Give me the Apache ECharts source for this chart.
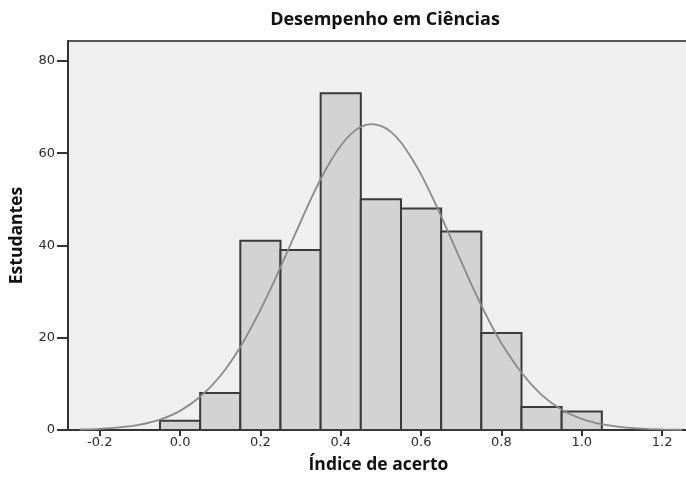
<!DOCTYPE html>
<html>
<head>
<meta charset="utf-8">
<script src="https://cdn.jsdelivr.net/npm/echarts@6/dist/echarts.min.js"></script>
<style>
html,body{margin:0;padding:0;background:#ffffff;}
#chart{width:686px;height:480px;}
</style>
</head>
<body>
<div id="chart"></div>
<script>
// Histogram bins (centers) and counts
const binCenters = [0.0, 0.1, 0.2, 0.3, 0.4, 0.5, 0.6, 0.7, 0.8, 0.9, 1.0];
const counts = [2, 8, 41, 39, 73, 50, 48, 43, 21, 5, 4];
const binWidth = 0.1;

// Fitted normal curve
const curveX = [-0.25, -0.2, -0.15, -0.1, -0.05, 0.0, 0.05, 0.1, 0.15, 0.2, 0.225, 0.25, 0.275, 0.3, 0.325, 0.35, 0.375, 0.4, 0.425, 0.45, 0.475, 0.5, 0.525, 0.55, 0.575, 0.6, 0.625, 0.65, 0.675, 0.7, 0.725, 0.75, 0.775, 0.8, 0.85, 0.9, 0.95, 1.0, 1.05, 1.1, 1.15, 1.2, 1.25];
const curveY = [0.11, 0.25, 0.55, 1.15, 2.25, 4.15, 7.2, 11.7, 18.0, 26.0, 30.5, 35.3, 40.2, 45.1, 49.9, 54.4, 58.3, 61.6, 64.1, 65.7, 66.3, 65.9, 64.6, 62.3, 59.1, 55.4, 51.0, 46.3, 41.4, 36.5, 31.6, 27.0, 22.7, 18.8, 12.4, 7.6, 4.4, 2.43, 1.25, 0.61, 0.28, 0.12, 0.05];

// Tick labels
const xTicks = [-0.2, 0.0, 0.2, 0.4, 0.6, 0.8, 1.0, 1.2];
const yTicks = [0, 20, 40, 60, 80];

const titleText = 'Desempenho em Ciências';
const xTitle = 'Índice de acerto';
const yTitle = 'Estudantes';

const chart = echarts.init(document.getElementById('chart'), null, {renderer: 'canvas'});

const barData = binCenters.map((c, i) => [c, counts[i]]);
const curveData = curveX.map((x, i) => [x, curveY[i]]);

const tickFont = {fontFamily: 'DejaVu Sans', fontSize: 13, color: '#2a2a2a'};
const nameFont = {fontFamily: 'Open Sans', fontWeight: 'bold', fontSize: 17.5, color: '#111'};

chart.setOption({
  animation: false,
  backgroundColor: '#ffffff',
  title: {
    text: titleText,
    left: 385,
    top: 11,
    textAlign: 'center',
    padding: 0,
    textStyle: {fontFamily: 'Open Sans', fontWeight: 'bold', fontSize: 18, color: '#111'}
  },
  grid: {
    left: 68, right: -3, top: 41, bottom: 50,
    outerBoundsMode: 'none',
    containLabel: false,
    show: true,
    backgroundColor: '#efefef',
    borderColor: '#555',
    borderWidth: 2
  },
  xAxis: {
    type: 'value',
    min: -0.279,
    max: 1.267,
    name: xTitle,
    nameLocation: 'middle',
    nameGap: 26,
    nameTextStyle: nameFont,
    axisLine: {show: true, onZero: false, lineStyle: {color: '#333', width: 2}},
    axisTick: {show: true, customValues: xTicks, length: 6, lineStyle: {color: '#333', width: 2}},
    axisLabel: {customValues: xTicks, margin: 6, formatter: v => v.toFixed(1), ...tickFont},
    splitLine: {show: false}
  },
  yAxis: {
    type: 'value',
    min: 0,
    max: 84.3,
    name: yTitle,
    nameLocation: 'middle',
    nameGap: 42,
    nameRotate: 90,
    nameTextStyle: nameFont,
    axisLine: {show: true, onZero: false, lineStyle: {color: '#333', width: 2}},
    axisTick: {show: true, customValues: yTicks, length: 11, lineStyle: {color: '#333', width: 2}},
    axisLabel: {customValues: yTicks, margin: 13, ...tickFont},
    splitLine: {show: false}
  },
  series: [
    {
      type: 'custom',
      data: barData,
      encode: {x: 0, y: 1},
      z: 2,
      renderItem: function (params, api) {
        const c = api.value(0);
        const v = api.value(1);
        const p0 = api.coord([c - binWidth / 2, v]);
        const p1 = api.coord([c + binWidth / 2, 0]);
        return {
          type: 'rect',
          shape: {x: p0[0], y: p0[1], width: p1[0] - p0[0], height: p1[1] - p0[1]},
          style: {fill: '#d3d3d3', stroke: '#3a3a3a', lineWidth: 2}
        };
      }
    },
    {
      type: 'line',
      data: curveData,
      smooth: 0.3,
      showSymbol: false,
      symbol: 'none',
      z: 3,
      lineStyle: {color: '#8a8a8a', width: 1.8}
    }
  ]
});
</script>
</body>
</html>
